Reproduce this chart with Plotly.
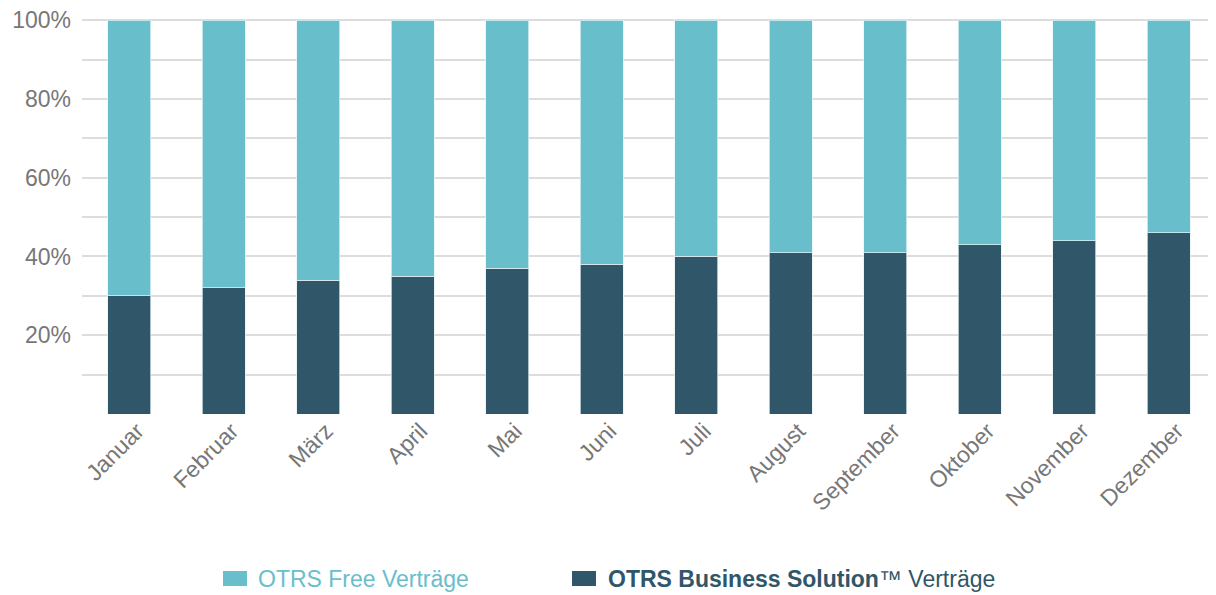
import plotly.graph_objects as go

months = ["Januar", "Februar", "März", "April", "Mai", "Juni", "Juli",
          "August", "September", "Oktober", "November", "Dezember"]
business_pct = [30, 32, 34, 35, 37, 38, 40, 41, 41, 43, 44, 46]
free_pct = [70, 68, 66, 65, 63, 62, 60, 59, 59, 57, 56, 54]
free_name = "OTRS Free Verträge"
business_name_bold = "OTRS Business Solution"
business_name_rest = "™ Verträge"
y_tick_vals = [0, 10, 20, 30, 40, 50, 60, 70, 80, 90, 100]
y_tick_text = ["", "", "20%", "", "40%", "", "60%", "", "80%", "", "100%"]

LIGHT = "#69BECB"
DARK = "#305669"
FONT = "Liberation Sans, Arial, Helvetica, sans-serif"

fig = go.Figure()
fig.add_trace(go.Bar(x=months, y=business_pct, name=business_name_bold + business_name_rest,
                     marker=dict(color=DARK, line=dict(color="rgba(230,240,245,0.7)", width=1)),
                     showlegend=False))
fig.add_trace(go.Bar(x=months, y=free_pct, name=free_name,
                     marker=dict(color=LIGHT, line=dict(color="rgba(230,245,248,0.7)", width=1)),
                     showlegend=False))

# page offset (body margin) and target plot area in screen pixels
OFF = 8
PAGE_W, PAGE_H = 1216, 595
L, R, T, B = 82, 1216, 19, 414
W, H = R - L, B - T


def px(x):
    return (x - L) / W


def py(y):
    return (B - y) / H


shapes = [
    dict(type="rect", xref="paper", yref="paper", x0=px(223), x1=px(247), y0=py(586), y1=py(571),
         fillcolor=LIGHT, line=dict(width=0)),
    dict(type="rect", xref="paper", yref="paper", x0=px(572), x1=px(596), y0=py(586), y1=py(571),
         fillcolor=DARK, line=dict(width=0)),
]
annotations = [
    dict(xref="paper", yref="paper", x=px(256), y=py(579), xanchor="left", yanchor="middle",
         text=free_name, showarrow=False, font=dict(family=FONT, size=23, color=LIGHT)),
    dict(xref="paper", yref="paper", x=px(606), y=py(579), xanchor="left", yanchor="middle",
         text="<b>" + business_name_bold + "</b>" + business_name_rest, showarrow=False,
         font=dict(family=FONT, size=23, color=DARK)),
]

fig.update_layout(
    barmode="stack",
    bargap=0.54,
    width=PAGE_W - OFF, height=PAGE_H - OFF,
    margin=dict(l=L - OFF, r=PAGE_W - R, t=T - OFF, b=PAGE_H - B, pad=0),
    plot_bgcolor="white", paper_bgcolor="white",
    font=dict(family=FONT, size=23, color="#777777"),
    shapes=shapes,
    annotations=annotations,
    xaxis=dict(tickangle=-45, showgrid=False, showline=False, ticks="", zeroline=False,
               ticklabelshift=8, ticklabelstandoff=-2,
               tickfont=dict(size=23, color="#777777")),
    yaxis=dict(range=[0, 100.3], tickvals=y_tick_vals, ticktext=y_tick_text,
               showgrid=True, gridcolor="#dddddd", gridwidth=1.5, zeroline=False,
               showline=False, ticks="", ticklabelstandoff=10, ticklabeloverflow="allow",
               tickfont=dict(size=23, color="#777777")),
)

fig.write_html("out.html")
